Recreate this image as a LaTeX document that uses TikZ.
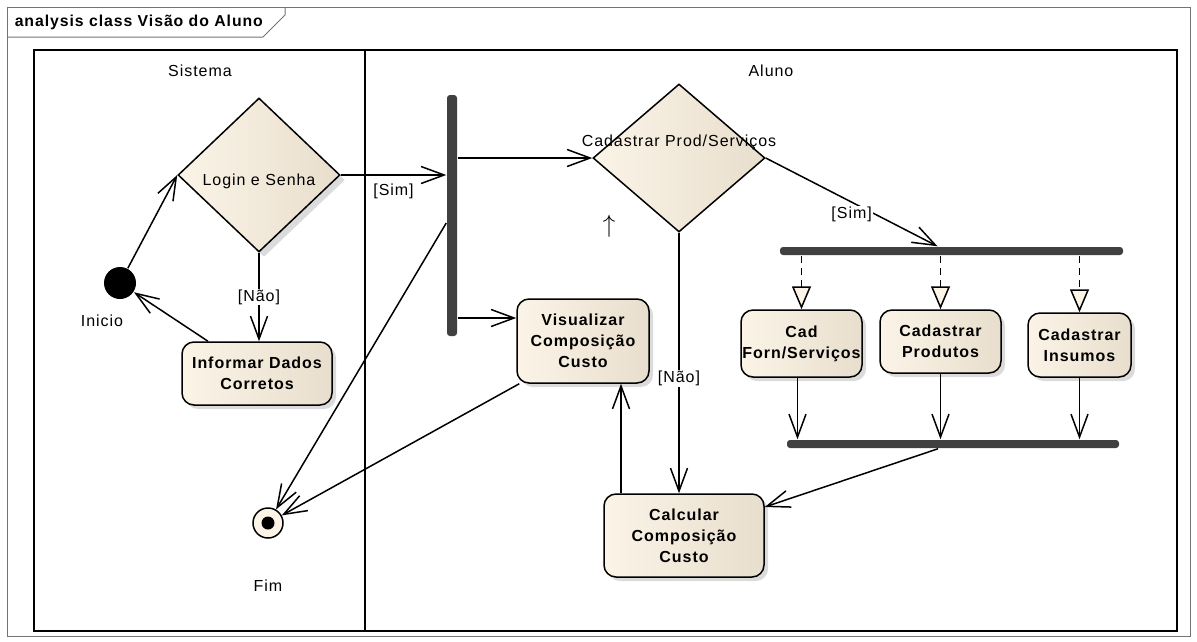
\documentclass[tikz,border=0pt]{standalone}
\usepackage{fontspec}
\setmainfont[LetterSpace=6]{Liberation Sans}
\usepackage{tikz}
\usetikzlibrary{shapes.geometric, shapes.misc, positioning, shadows}
\usetikzlibrary{arrows.meta}
\tikzset{>={Straight Barb[length=23pt,width=17pt]}}
\definecolor{actleft}{RGB}{251,244,231}
\definecolor{actright}{RGB}{232,222,205}
\definecolor{barfill}{RGB}{64,64,64}

\begin{document}
\begin{tikzpicture}[x=1pt, y=-1pt, line width=1.5pt,
    action/.style={rectangle, rounded corners=12pt, draw=black, left color=actleft, right color=actright,
        drop shadow={shadow xshift=4pt, shadow yshift=-4pt, fill=black!28}, inner sep=1pt,
        align=center, font=\fontsize{16}{21}\selectfont\bfseries},
    decision/.style={diamond, draw=black, left color=actleft, right color=actright, inner sep=0pt},
    bar/.style={rectangle, fill=barfill, rounded corners=3pt, inner sep=0pt},
    guard/.style={fill=white, inner sep=1pt, font=\fontsize{16}{18}\selectfont},
    plain/.style={inner sep=0pt, font=\fontsize{16}{18}\selectfont},
    fork/.style={dashed, dash pattern=on 7pt off 5pt, -{Triangle[length=23pt, width=19pt, fill=actleft]}} ]

    \useasboundingbox (0,0) rectangle (1197,641);

    %Frame
    \draw[black!55, line width=1pt] (7,7) rectangle (1190,636);
    \draw[black!55, line width=1pt] (7,37) -- (263,37) -- (285,15) -- (285,7);
    \node[anchor=west, inner sep=0pt, font=\fontsize{15.8}{18}\selectfont\bfseries] (title) at (14,22) {analysis class Visão do Aluno};
    \draw (34,50) rectangle (1177,631);
    \draw (365,50) -- (365,631);
    \node[plain] (sistema) at (200,71) {Sistema};
    \node[plain] (aluno) at (771,71) {Aluno};

    %Nodes
    \node[decision, minimum width=162pt, minimum height=154pt,
        drop shadow={shadow xshift=5pt, shadow yshift=-5pt, fill=black!28}] (login) at (259,175) {};
    \node[plain] (login_txt) at (259,181) {Login e Senha};
    \node[circle, fill=black, minimum size=32pt, inner sep=0pt] (init) at (120,283) {};
    \node[plain] (init_txt) at (102,321) {Inicio};
    \node[action, minimum width=150pt, minimum height=63pt] (informar) at (257,373.5) {Informar Dados\\Corretos};
    \node[bar, minimum width=10pt, minimum height=241pt] (forkbar) at (452,215.5) {};
    \node[decision, minimum width=172pt, minimum height=148pt] (cadprod) at (679,158) {};
    \node[plain] (cadprod_txt) at (679,142) {Cadastrar Prod/Serviços};
    \node[inner sep=0pt] (up_mark) at (609,226) {\scalebox{2.5}{$\uparrow$}};
    \node[action, minimum width=132pt, minimum height=84pt] (visualizar) at (583,341) {Visualizar\\Composição\\Custo};
    \node[action, minimum width=160pt, minimum height=83pt] (calcular) at (684,535.5) {Calcular\\Composição\\Custo};
    \node[circle, draw=black, fill=actleft, minimum size=30pt, inner sep=0pt] (fim) at (268,523) {};
    \node[circle, fill=black, minimum size=13pt, inner sep=0pt] (fim_dot) at (fim) {};
    \node[plain] (fim_txt) at (268,586) {Fim};
    \node[bar, minimum width=343pt, minimum height=8pt] (topbar) at (951.5,251) {};
    \node[action, minimum width=121pt, minimum height=67pt] (cadforn) at (801.5,343.5) {Cad\\Forn/Serviços};
    \node[action, minimum width=121pt, minimum height=63pt] (cadprodutos) at (940.5,341.5) {Cadastrar\\Produtos};
    \node[action, minimum width=103pt, minimum height=64pt] (cadinsumos) at (1079.5,345) {Cadastrar\\Insumos};
    \node[bar, minimum width=332pt, minimum height=8pt] (joinbar) at (953,444) {};

    %Lines
    \draw[->] (init) -- (login.west);
    \draw[->] (login.south) -- node[guard] {[Não]} (login.south |- informar.north);
    \draw[->] ([xshift=-49pt]informar.north) -- (init);
    \draw[->] (login.east) -- node[plain, below=8pt] {[Sim]} (login.east -| forkbar.west);
    \draw[->] (forkbar.east |- cadprod.west) -- (cadprod.west);
    \draw[->] (forkbar.east |- {0,318}) -- (visualizar.west |- {0,318});
    \draw[->] (forkbar.west |- {0,223}) -- (fim);
    \draw[->] ([xshift=3pt]visualizar.south west) -- (fim);
    \draw[->] (cadprod.south) -- node[guard, pos=0.56] {[Não]} (cadprod.south |- calcular.north);
    \draw[->] ([xshift=-63pt]calcular.north) -- ([xshift=-63pt]calcular.north |- visualizar.south);
    \draw[->] (cadprod.east) -- node[guard, pos=0.5, below=3pt] {[Sim]} ([xshift=-14pt]topbar.north);
    \draw[fork] (cadforn.north |- topbar.south) -- (cadforn.north);
    \draw[fork] (cadprodutos.north |- topbar.south) -- (cadprodutos.north);
    \draw[fork] (cadinsumos.north |- topbar.south) -- (cadinsumos.north);
    \draw[->] ([xshift=-4pt]cadforn.south) -- ([xshift=-4pt]cadforn.south |- joinbar.north);
    \draw[->] (cadprodutos.south) -- (cadprodutos.south |- joinbar.north);
    \draw[->] (cadinsumos.south) -- (cadinsumos.south |- joinbar.north);
    \draw[->] ([xshift=-15pt]joinbar.south) -- (calcular.east |- {0,507});
\end{tikzpicture}
\end{document}
